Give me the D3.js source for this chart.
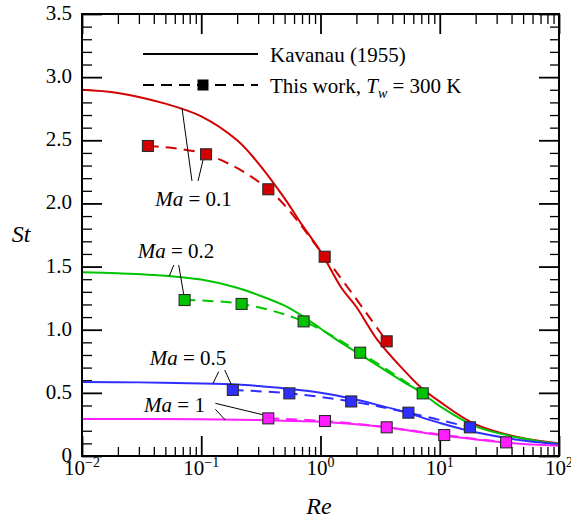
<!DOCTYPE html>
<html>
<head>
<meta charset="utf-8">
<script src="https://cdn.jsdelivr.net/npm/d3@7/dist/d3.min.js"></script>
<style>
  body { margin: 0; background: #fff; }
  svg { display: block; }
</style>
</head>
<body>
<svg id="chart" width="571" height="522"></svg>
<script>
// ---- Kavanau (1955) curves: Stanton number vs Reynolds number ----
const kavRe = [0.01, 0.02, 0.05, 0.1, 0.2, 0.3, 0.5, 0.7, 1, 1.5, 2, 3, 5, 7, 10, 20, 50, 100];
const kavMa01 = [2.90, 2.875, 2.79, 2.69, 2.50, 2.32, 2.04, 1.83, 1.62, 1.33, 1.18, 0.92, 0.68, 0.54, 0.43, 0.25, 0.14, 0.10];
const kavMa02 = [1.455, 1.447, 1.428, 1.397, 1.332, 1.275, 1.19, 1.11, 1.01, 0.895, 0.822, 0.717, 0.585, 0.503, 0.395, 0.235, 0.138, 0.095];
const kavReB = [0.01, 0.03, 0.1, 0.2, 0.3, 0.5, 1, 2, 3, 5, 10, 20, 50, 100];
const kavMa05 = [0.586, 0.583, 0.575, 0.566, 0.554, 0.535, 0.50, 0.445, 0.405, 0.35, 0.262, 0.188, 0.123, 0.093];
const kavReM = [0.01, 0.1, 0.3, 0.5, 1, 3, 10, 20, 50, 100];
const kavMa1 = [0.293, 0.291, 0.285, 0.279, 0.271, 0.235, 0.166, 0.131, 0.095, 0.082];

// ---- This work, Tw = 300 K ----
const workReMa01 = [0.0357, 0.1097, 0.365, 1.084, 3.59];
const workStMa01 = [2.455, 2.389, 2.112, 1.578, 0.908];
const workReMa02 = [0.0725, 0.218, 0.722, 2.15, 7.2];
const workStMa02 = [1.235, 1.204, 1.066, 0.818, 0.496];
const workReMa05 = [0.184, 0.548, 1.81, 5.46, 17.9];
const workStMa05 = [0.523, 0.496, 0.432, 0.343, 0.227];
const workReMa1 = [0.365, 1.09, 3.59, 10.9, 36.0];
const workStMa1 = [0.298, 0.277, 0.227, 0.166, 0.108];

// ---- axis ticks ----
const xMajor = [0.01, 0.1, 1, 10, 100];
const xMajorExp = ["\u22122", "\u22121", "0", "1", "2"];
const yMajor = [0, 0.5, 1.0, 1.5, 2.0, 2.5, 3.0, 3.5];
const yMajorLabels = ["0", "0.5", "1.0", "1.5", "2.0", "2.5", "3.0", "3.5"];

// ---- Mach number annotations (label anchor and leader lines, in data units) ----
const maLabels = ["0.1", "0.2", "0.5", "1"];
const maLabelRe = [0.0861, 0.0614, 0.0775, 0.0597];
const maLabelSt = [1.98, 1.568, 0.721, 0.348];
const maLeaders = [
  [[0.0836, 2.178, 0.0690, 2.753], [0.0940, 2.178, 0.1035, 2.344]],
  [[0.0588, 1.512, 0.0540, 1.425], [0.0647, 1.512, 0.0713, 1.279]],
  [[0.140, 0.668, 0.1256, 0.576], [0.1574, 0.681, 0.181, 0.554]],
  [[0.1313, 0.417, 0.334, 0.325], [0.1313, 0.370, 0.159, 0.285]]
];

const colors = { red: "#d20000", green: "#00c400", blue: "#2e2eff", magenta: "#ff1eff" };
const FONT = '"Liberation Serif"';

// make sure the serif faces are resolved before the text is laid out
(function warmFonts() {
  const ctx = document.createElement("canvas").getContext("2d");
  ["", "italic "].forEach(st => {
    [14, 21, 24].forEach(sz => {
      ctx.font = `${st}${sz}px ${FONT}`;
      ctx.measureText("Kavanau (1955) Ma St Re 0123456789");
    });
  });
})();

const series = [
  { color: colors.red, kRe: kavRe, kSt: kavMa01, wRe: workReMa01, wSt: workStMa01 },
  { color: colors.green, kRe: kavRe, kSt: kavMa02, wRe: workReMa02, wSt: workStMa02 },
  { color: colors.blue, kRe: kavReB, kSt: kavMa05, wRe: workReMa05, wSt: workStMa05 },
  { color: colors.magenta, kRe: kavReM, kSt: kavMa1, wRe: workReMa1, wSt: workStMa1 }
];

const W = 571, H = 522;
const margin = { left: 82, top: 14, right: 12, bottom: 66 };
const x0 = margin.left, x1 = W - margin.right, y0 = H - margin.bottom, y1 = margin.top;

const x = d3.scaleLog().domain([0.01, 100]).range([x0, x1]);
const y = d3.scaleLinear().domain([0, 3.5]).range([y0, y1]);

const svg = d3.select("#chart");

// minor tick values
const xMinor = [];
for (let d = 0; d < 4; d++) {
  for (let k = 2; k <= 9; k++) xMinor.push(k * Math.pow(10, d - 2));
}
const yMinor = d3.range(0, 36).map(i => i / 10).filter(v => Math.round(v * 10) % 5 !== 0);

function tickGroup(axis, tx, ty, sw) {
  const g = svg.append("g").attr("transform", `translate(${tx},${ty})`).call(axis);
  g.select(".domain").remove();
  g.selectAll("line").attr("stroke", "#000").attr("stroke-width", sw);
  g.selectAll("text").remove();
  return g;
}

// inward ticks on all four sides
tickGroup(d3.axisBottom(x).tickValues(xMajor).tickSize(-20), 0, y0, 1.8);
tickGroup(d3.axisBottom(x).tickValues(xMinor).tickSize(-9), 0, y0, 1.3);
tickGroup(d3.axisTop(x).tickValues(xMajor).tickSize(-20), 0, y1, 1.8);
tickGroup(d3.axisTop(x).tickValues(xMinor).tickSize(-10), 0, y1, 1.3);
tickGroup(d3.axisLeft(y).tickValues(yMajor).tickSize(-20), x0, 0, 1.8);
tickGroup(d3.axisLeft(y).tickValues(yMinor).tickSize(-10), x0, 0, 1.3);
tickGroup(d3.axisRight(y).tickValues(yMajor).tickSize(-20), x1, 0, 1.8);
tickGroup(d3.axisRight(y).tickValues(yMinor).tickSize(-9), x1, 0, 1.3);

function txt(sel) {
  return sel.attr("font-family", FONT).style("font-family", FONT).attr("fill", "#000");
}

// tick labels
txt(svg.append("g").selectAll("text").data(yMajor).join("text"))
  .attr("x", x0 - 10).attr("y", d => y(d) + 6)
  .attr("text-anchor", "end").attr("font-size", 21)
  .text((d, i) => yMajorLabels[i]);

const xl = txt(svg.append("g").selectAll("text").data(xMajor).join("text"))
  .attr("x", d => x(d)).attr("y", y0 + 18.5)
  .attr("text-anchor", "middle").attr("font-size", 21);
txt(xl.append("tspan")).text("10");
txt(xl.append("tspan")).attr("dy", -8).attr("font-size", 14).text((d, i) => xMajorExp[i]);

// axis titles
txt(svg.append("text")).attr("x", 21).attr("y", 242).attr("text-anchor", "middle")
  .attr("font-size", 24).attr("font-style", "italic").text("St");
txt(svg.append("text")).attr("x", 319).attr("y", 514).attr("text-anchor", "middle")
  .attr("font-size", 24).attr("font-style", "italic").text("Re");

// curves
const line = d3.line().x(d => x(d[0])).y(d => y(d[1])).curve(d3.curveCatmullRom.alpha(0.5));
const plot = svg.append("g");

series.forEach(s => {
  plot.append("path")
    .attr("d", line(s.kRe.map((r, i) => [r, s.kSt[i]])))
    .attr("fill", "none").attr("stroke", s.color).attr("stroke-width", 2);
});
series.forEach(s => {
  plot.append("path")
    .attr("d", line(s.wRe.map((r, i) => [r, s.wSt[i]])))
    .attr("fill", "none").attr("stroke", s.color).attr("stroke-width", 2)
    .attr("stroke-dasharray", "11,7");
});

// annotation leaders and labels
maLabels.forEach((lab, i) => {
  maLeaders[i].forEach(l => {
    plot.append("line")
      .attr("x1", x(l[0])).attr("y1", y(l[1]))
      .attr("x2", x(l[2])).attr("y2", y(l[3]))
      .attr("stroke", "#000").attr("stroke-width", 1);
  });
  const t = txt(plot.append("text"))
    .attr("x", x(maLabelRe[i])).attr("y", y(maLabelSt[i]))
    .attr("text-anchor", "middle").attr("font-size", 21);
  txt(t.append("tspan")).attr("font-style", "italic").text("Ma");
  txt(t.append("tspan")).text(" = " + lab);
});

// markers
const ms = 11;
series.forEach(s => {
  plot.append("g").selectAll("rect").data(s.wRe.map((r, i) => [r, s.wSt[i]])).join("rect")
    .attr("x", d => x(d[0]) - ms / 2).attr("y", d => y(d[1]) - ms / 2)
    .attr("width", ms).attr("height", ms)
    .attr("fill", s.color).attr("stroke", "#2a2a2a").attr("stroke-width", 1.1);
});

// legend
const lg = svg.append("g");
lg.append("line").attr("x1", 143).attr("x2", 258).attr("y1", 54).attr("y2", 54)
  .attr("stroke", "#000").attr("stroke-width", 2);
txt(lg.append("text")).attr("x", 270).attr("y", 62).attr("font-size", 21).text("Kavanau (1955)");
lg.append("line").attr("x1", 143).attr("x2", 258).attr("y1", 85).attr("y2", 85)
  .attr("stroke", "#000").attr("stroke-width", 2).attr("stroke-dasharray", "11,7");
lg.append("rect").attr("x", 203 - 5.5).attr("y", 85 - 5.5).attr("width", 11).attr("height", 11)
  .attr("fill", "#000");
const lt = txt(lg.append("text")).attr("x", 270).attr("y", 93).attr("font-size", 21);
txt(lt.append("tspan")).text("This work, ");
txt(lt.append("tspan")).attr("font-style", "italic").text("T");
txt(lt.append("tspan")).attr("font-style", "italic").attr("font-size", 14).attr("dy", 5).text("w");
txt(lt.append("tspan")).attr("dy", -5).text(" = 300 K");

// frame
svg.append("rect").attr("x", x0).attr("y", y1).attr("width", x1 - x0).attr("height", y0 - y1)
  .attr("fill", "none").attr("stroke", "#000").attr("stroke-width", 2);
</script>
</body>
</html>
